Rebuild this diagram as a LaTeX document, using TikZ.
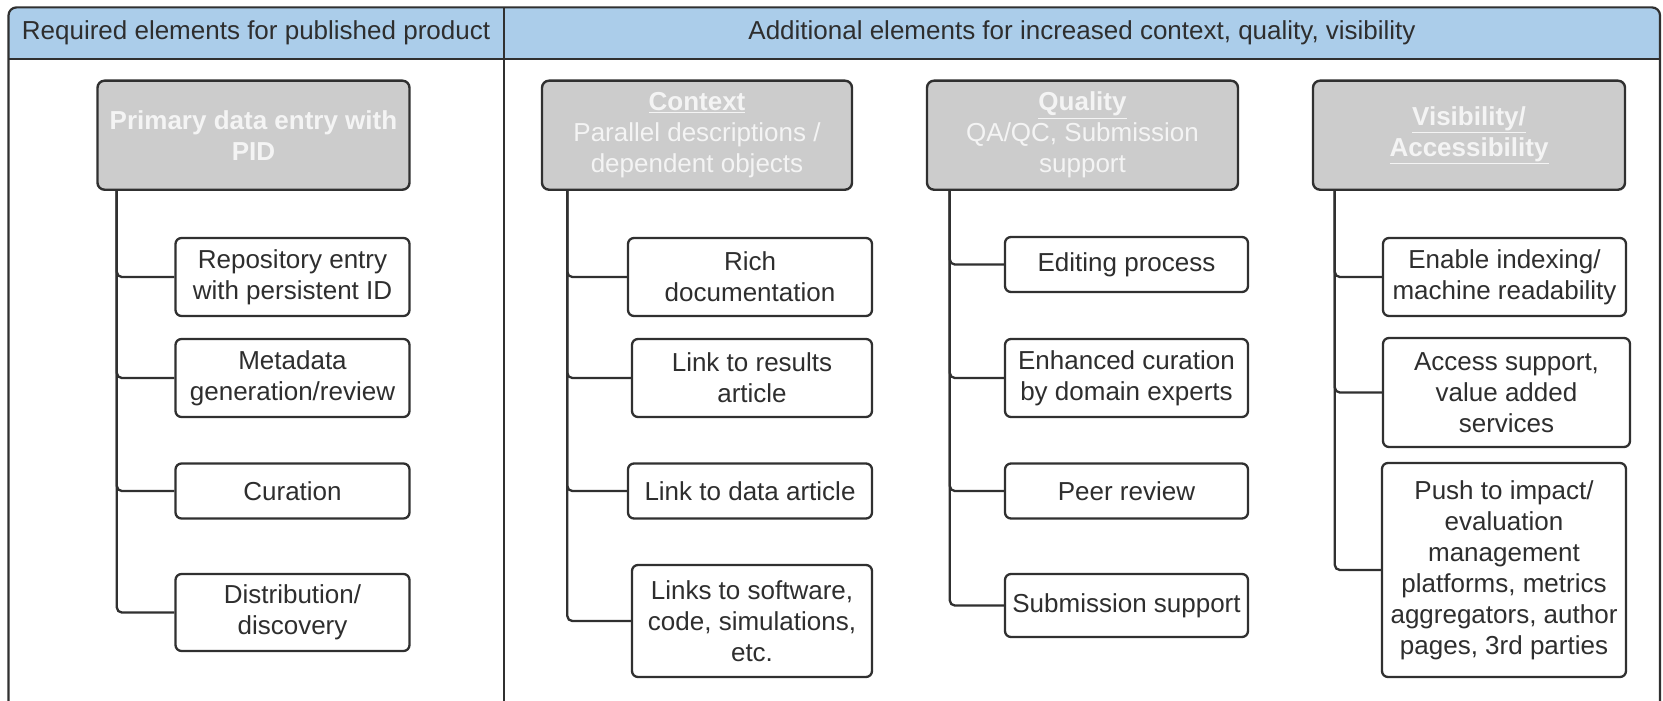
\documentclass[tikz,border=0pt]{standalone}
\usepackage{fontspec}
\setmainfont{Liberation Sans}
\definecolor{ln}{HTML}{303030}
\definecolor{hblue}{HTML}{ABCDEA}
\definecolor{hgrey}{HTML}{CCCCCC}
\definecolor{htext}{HTML}{F4F4F4}
\definecolor{ctext}{HTML}{2E2E2E}
\begin{document}
\begin{tikzpicture}[x=1pt,y=-1pt,
  frame/.style={draw=ln, line width=2.2pt},
  title/.style={text=ctext, font=\fontsize{26}{31}\selectfont, inner sep=0pt},
  hdr/.style={draw=ln, line width=2.4pt, fill=hgrey, rounded corners=7pt, text=htext,
    font=\bfseries\fontsize{26}{31}\selectfont, align=center, inner sep=0pt},
  child/.style={draw=ln, line width=2.3pt, fill=white, rounded corners=6pt, text=ctext,
    font=\fontsize{26}{31}\selectfont, align=center, inner sep=0pt},
  conn/.style={draw=ln, line width=2.3pt, rounded corners=5pt}]
\useasboundingbox (0,0) rectangle (1663,701);
% header band
\fill[hblue, rounded corners=8pt] (8.5,7.4) rectangle (1660,59.4);
\fill[hblue] (8.5,30) rectangle (1660,59.4);
\draw[frame, rounded corners=8pt] (8.5,701) -- (8.5,7.4) -- (1660,7.4) -- (1660,701);
\draw[frame] (8.5,59.4) -- (1660,59.4);
\draw[frame] (504,7.4) -- (504,701);
\node[title] (t1) at (256,32.5) {Required elements for published product};
\node[title] (t2) at (1082,32.5) {Additional elements for increased context, quality, visibility};

% column 1
\node[hdr, minimum width=312pt, minimum height=109pt] (pri) at (253.5,135.2) {Primary data entry with\\PID};
\node[child, minimum width=234pt, minimum height=78pt] (rep) at (292.5,277) {Repository entry\\with persistent ID};
\node[child, minimum width=234pt, minimum height=78pt] (meta) at (292.5,378) {Metadata\\generation/review};
\node[child, minimum width=234pt, minimum height=55pt] (cur) at (292.5,491) {Curation};
\node[child, minimum width=234pt, minimum height=77pt] (dist) at (292.5,612.5) {Distribution/\\discovery};
\coordinate (pv) at ([xshift=20.5pt]pri.south west);
\foreach \c in {rep,meta,cur,dist} \draw[conn] (pv) |- (\c.west);

% column 2
\node[hdr, minimum width=310pt, minimum height=109pt] (ctx) at (697,135.2)
  {\underline{Context}\\{\mdseries Parallel descriptions /}\\{\mdseries dependent objects}};
\node[child, minimum width=244pt, minimum height=78pt] (rich) at (750,277) {Rich\\documentation};
\node[child, minimum width=240pt, minimum height=78pt] (res) at (752,378) {Link to results\\article};
\node[child, minimum width=244pt, minimum height=55pt] (dat) at (750,491) {Link to data article};
\node[child, minimum width=240pt, minimum height=112pt] (soft) at (752,621) {Links to software,\\code, simulations,\\etc.};
\coordinate (cv) at ([xshift=26.5pt]ctx.south west);
\foreach \c in {rich,res,dat,soft} \draw[conn] (cv) |- (\c.west);

% column 3
\node[hdr, minimum width=311pt, minimum height=109pt] (qual) at (1082.5,135.2)
  {\underline{Quality}\\{\mdseries QA/QC, Submission}\\{\mdseries support}};
\node[child, minimum width=243pt, minimum height=55pt] (edit) at (1126.5,264.5) {Editing process};
\node[child, minimum width=243pt, minimum height=78pt] (enh) at (1126.5,378) {Enhanced curation\\by domain experts};
\node[child, minimum width=243pt, minimum height=55pt] (peer) at (1126.5,491) {Peer review};
\node[child, minimum width=243pt, minimum height=63pt] (sub) at (1126.5,605.5) {Submission support};
\coordinate (qv) at ([xshift=24pt]qual.south west);
\foreach \c in {edit,enh,peer,sub} \draw[conn] (qv) |- (\c.west);

% column 4
\node[hdr, minimum width=312pt, minimum height=109pt] (vis) at (1469,135.2)
  {\underline{Visibility/}\\\underline{Accessibility}};
\node[child, minimum width=243pt, minimum height=78pt] (idx) at (1504.5,277) {Enable indexing/\\machine readability};
\node[child, minimum width=247pt, minimum height=109pt] (acc) at (1506.5,392.5) {Access support,\\value added\\services};
\node[child, minimum width=244pt, minimum height=214pt] (push) at (1504,570)
  {Push to impact/\\evaluation\\management\\platforms, metrics\\aggregators, author\\pages, 3rd parties};
\coordinate (vv) at ([xshift=23pt]vis.south west);
\foreach \c in {idx,acc,push} \draw[conn] (vv) |- (\c.west);
\end{tikzpicture}
\end{document}
